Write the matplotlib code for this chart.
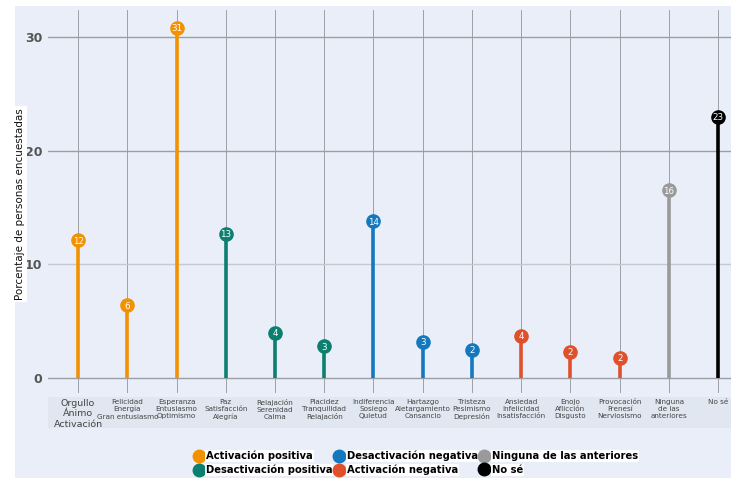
import matplotlib.pyplot as plt
from matplotlib.lines import Line2D
from matplotlib.patches import Rectangle

categories = ["Orgullo\nÁnimo\nActivación", "Felicidad\nEnergía\nGran entusiasmo",
              "Esperanza\nEntusiasmo\nOptimismo", "Paz\nSatisfacción\nAlegría",
              "Relajación\nSerenidad\nCalma", "Placidez\nTranquilidad\nRelajación",
              "Indiferencia\nSosiego\nQuietud", "Hartazgo\nAletargamiento\nCansancio",
              "Tristeza\nPesimismo\nDepresión", "Ansiedad\nInfelicidad\nInsatisfacción",
              "Enojo\nAflicción\nDisgusto", "Provocación\nFrenesí\nNerviosismo",
              "Ninguna\nde las\nanteriores", "No sé"]
values = [12.1, 6.4, 30.8, 12.7, 4.0, 2.8, 13.8, 3.2, 2.5, 3.7, 2.3, 1.8, 16.5, 23.0]
value_labels = ["12", "6", "31", "13", "4", "3", "14", "3", "2", "4", "2", "2", "16", "23"]
groups = ["Activación positiva"] * 3 + ["Desactivación positiva"] * 3 + \
         ["Desactivación negativa"] * 3 + ["Activación negativa"] * 3 + \
         ["Ninguna de las anteriores", "No sé"]

colors = {
    "Activación positiva": "#F39200",
    "Desactivación positiva": "#0B7F70",
    "Desactivación negativa": "#1478BE",
    "Activación negativa": "#E0512B",
    "Ninguna de las anteriores": "#9A9A9A",
    "No sé": "#000000",
}
legend_order = ["Activación positiva", "Desactivación positiva", "Desactivación negativa",
                "Activación negativa", "Ninguna de las anteriores", "No sé"]

bg = "#E9EEF8"
fig = plt.figure(figsize=(7.31, 4.78), dpi=100)
fig.patch.set_facecolor("white")
W, H = 731, 478
# background panel and label band
fig.add_artist(Rectangle((15 / W, 0), 1 - 15 / W, 1 - 6 / H, transform=fig.transFigure,
                         facecolor=bg, edgecolor="none", zorder=0))
fig.add_artist(Rectangle((48 / W, 1 - 428 / H), 1 - 48 / W, 31 / H, transform=fig.transFigure,
                         facecolor="#E1E7F1", edgecolor="none", zorder=0))

ax = fig.add_axes([48 / W, 1 - 393 / H, 1 - 48 / W, (393 - 10) / H])
ax.set_facecolor("none")
x = list(range(len(categories)))
ax.set_xlim(-0.61, 13.26)
ax.set_ylim(-1.32, 32.37)

for xi in x:
    ax.axvline(xi, color="#9CA1A8", lw=0.7, zorder=1)
for yv in [0, 10, 20, 30]:
    c = "#C4C9D2" if yv == 10 else "#9A9EA5"
    ax.axhline(yv, color=c, lw=1.0, zorder=1)

for xi, v, lab, g in zip(x, values, value_labels, groups):
    col = colors[g]
    ax.vlines(xi, 0, v, color=col, lw=2.6, zorder=3)
    ax.plot(xi, v, "o", ms=9.5, color=col, mec=col, zorder=4)
    ax.text(xi, v, lab, ha="center", va="center_baseline", color="white",
            fontsize=6.3, zorder=5)

ax.set_yticks([0, 10, 20, 30])
ax.set_yticklabels(["0", "10", "20", "30"], fontsize=9, fontweight="bold", color="#555555")
ax.tick_params(axis="y", length=0, pad=4)
ax.set_xticks(x)
ax.set_xticklabels(categories, fontsize=5.2, color="#444444", linespacing=1.25)
ax.get_xticklabels()[0].set_fontsize(6.8)
ax.tick_params(axis="x", length=0, pad=4)
for s in ax.spines.values():
    s.set_visible(False)

fig.text(20 / W, 1 - 204 / H, "Porcentaje de personas encuestadas", rotation=90,
         ha="center", va="center", fontsize=7.5, color="#111111",
         bbox=dict(facecolor="white", edgecolor="none", pad=1.5))

handles = [Line2D([], [], ls="none", marker="o", ms=9, color=colors[g]) for g in legend_order]
leg = fig.legend(handles, legend_order, ncol=3, loc="center", bbox_to_anchor=(416 / W, 1 - 463 / H),
                 frameon=False, fontsize=7.2, handlelength=0.9, handletextpad=0.3,
                 columnspacing=0.2, labelspacing=0.35, borderpad=0.2)
for t in leg.get_texts():
    t.set_fontweight("bold")
    t.set_bbox(dict(facecolor="white", edgecolor="none", pad=0.6))

fig.savefig("out.png", dpi=100)
